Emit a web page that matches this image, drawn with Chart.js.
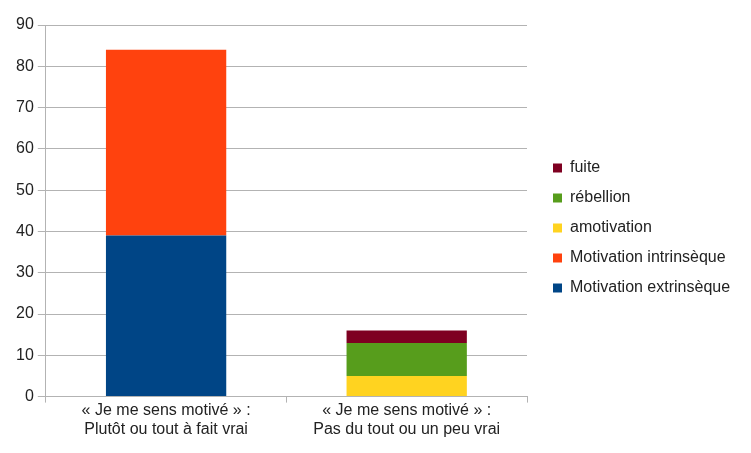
<!DOCTYPE html>
<html>
<head>
<meta charset="utf-8">
<script src="https://cdn.jsdelivr.net/npm/chart.js@4"></script>
<style>
  html, body { margin: 0; padding: 0; background: #fff; }
  #wrap { width: 751px; height: 453px; }
</style>
</head>
<body>
<div id="wrap"><canvas id="chart" width="751" height="453"></canvas></div>
<script>
// categories (two-line labels)
const categories = [
  ["« Je me sens motivé » :", "Plutôt ou tout à fait vrai"],
  ["« Je me sens motivé » :", "Pas du tout ou un peu vrai"]
];

// series values
const extrinseque = [39, null];
const intrinseque = [45, null];
const amotivation = [null, 5];
const rebellion = [null, 8];
const fuite = [null, 3];

const seriesNames = ["Motivation extrinsèque", "Motivation intrinsèque", "amotivation", "rébellion", "fuite"];
const seriesColors = ["#004586", "#ff420e", "#ffd320", "#579d1c", "#7e0021"];
const seriesData = [extrinseque, intrinseque, amotivation, rebellion, fuite];

const yTicks = { min: 0, max: 90, step: 10 };

const font = "'Liberation Sans', Arial, sans-serif";

const datasets = seriesNames.map((name, i) => ({
  label: name,
  data: seriesData[i],
  backgroundColor: seriesColors[i],
  borderWidth: 0,
  categoryPercentage: 1,
  barPercentage: 0.5
}));

// legend sits apart from the plot, like in the original
const legendPlacement = {
  id: 'legendPlacement',
  beforeLayout(chart) {
    const lg = chart.legend;
    if (lg && !lg._fixedFit) {
      const fit = lg.fit.bind(lg);
      lg.fit = function () {
        fit();
        this.width = 224;
      };
      lg._fixedFit = true;
    }
  },
  afterLayout(chart) {
    const lg = chart.legend;
    lg.left += 12;
    lg.right += 12;
    lg.top -= 3;
    lg.bottom -= 3;
  }
};

const cfg = {
  type: 'bar',
  data: { labels: categories, datasets: datasets },
  options: {
    responsive: false,
    animation: false,
    layout: { padding: { left: 12, top: 25, right: 0, bottom: 16 } },
    plugins: {
      legend: {
        position: 'right',
        reverse: true,
        labels: {
          boxWidth: 9,
          boxHeight: 9,
          padding: 14,
          color: '#222',
          font: { family: font, size: 16 }
        }
      },
      tooltip: { enabled: false }
    },
    scales: {
      x: {
        stacked: true,
        grid: { drawOnChartArea: false, offset: true, color: '#b3b3b3', tickLength: 6 },
        border: { color: '#b3b3b3' },
        ticks: { color: '#222', font: { family: font, size: 16 }, padding: -2, maxRotation: 0 }
      },
      y: {
        stacked: true,
        min: yTicks.min,
        max: yTicks.max,
        grid: { color: '#b3b3b3', tickLength: 8 },
        border: { color: '#b3b3b3' },
        ticks: { stepSize: yTicks.step, color: '#222', font: { family: font, size: 16 }, padding: 4 }
      }
    }
  },
  plugins: [legendPlacement]
};

new Chart(document.getElementById('chart'), cfg);
</script>
</body>
</html>
